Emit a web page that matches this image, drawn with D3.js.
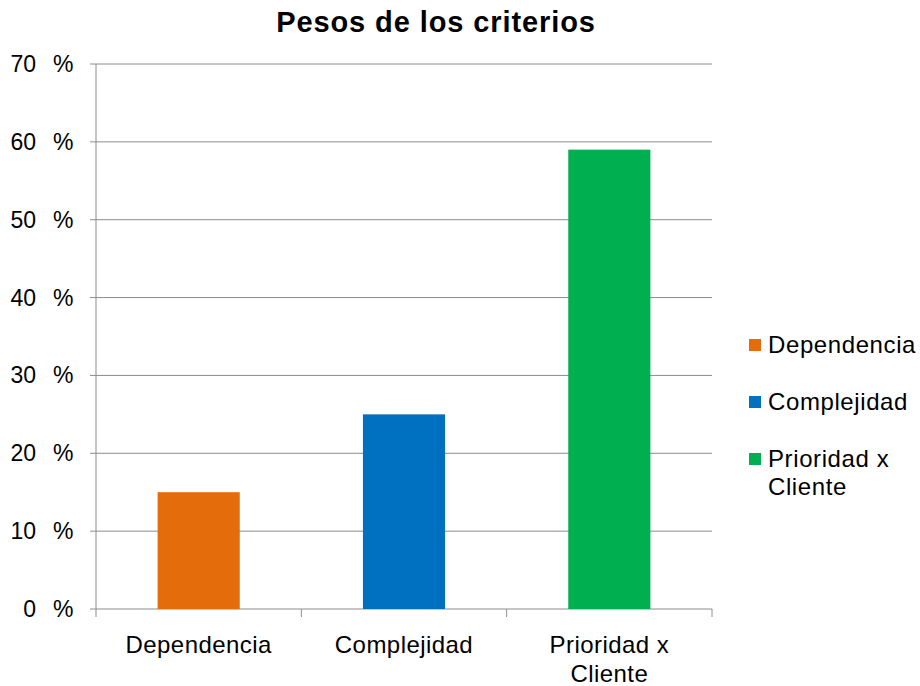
<!DOCTYPE html>
<html>
<head>
<meta charset="utf-8">
<script src="https://cdn.jsdelivr.net/npm/d3@7"></script>
<style>
  body { margin: 0; background: #fff; }
  text { font-family: "Liberation Sans", Arial, sans-serif; fill: #000; }
</style>
</head>
<body>
<div id="chart"></div>
<script>
// data
var categories = ["Dependencia", "Complejidad", "Prioridad x Cliente"];
var values = [15, 25, 59];
var colors = ["#e46c0a", "#0070c0", "#00b050"];
var yTicks = [0, 10, 20, 30, 40, 50, 60, 70];

var width = 920, height = 686;
var margin = {top: 64, right: 208, bottom: 77, left: 96};

var svg = d3.select("#chart").append("svg")
	.attr("width", width)
	.attr("height", height);

var x = d3.scaleBand()
	.domain(categories)
	.range([margin.left, width - margin.right])
	.paddingInner(0.6)
	.paddingOuter(0.3);

var y = d3.scaleLinear()
	.domain([0, 70])
	.range([height - margin.bottom, margin.top]);

// gridlines
svg.append("g")
	.selectAll("line")
	.data(yTicks)
	.enter().append("line")
	.attr("x1", margin.left - 6)
	.attr("x2", width - margin.right)
	.attr("y1", function (d) { return y(d); })
	.attr("y2", function (d) { return y(d); })
	.attr("stroke", "#8c8c8c")
	.attr("stroke-width", 1);

// y axis line
svg.append("line")
	.attr("x1", margin.left).attr("x2", margin.left)
	.attr("y1", y(70)).attr("y2", y(0))
	.attr("stroke", "#8c8c8c");

// category separator ticks on x axis
var bounds = [0, 1, 2, 3].map(function (i) {
	return margin.left + i * (width - margin.right - margin.left) / 3;
});
svg.append("g")
	.selectAll("line")
	.data(bounds)
	.enter().append("line")
	.attr("x1", function (d) { return d; })
	.attr("x2", function (d) { return d; })
	.attr("y1", y(0))
	.attr("y2", y(0) + 8)
	.attr("stroke", "#8c8c8c");

// y tick labels: number and % split like the original
var yl = svg.append("g").selectAll("g")
	.data(yTicks)
	.enter().append("g")
	.attr("transform", function (d) { return "translate(0," + (y(d) + 8) + ")"; });
yl.append("text")
	.attr("x", 36)
	.attr("text-anchor", "end")
	.style("font-size", "23px")
	.text(function (d) { return d; });
yl.append("text")
	.attr("x", 53)
	.style("font-size", "23px")
	.text("%");

// bars
svg.append("g")
	.selectAll("rect")
	.data(values)
	.enter().append("rect")
	.attr("x", function (d, i) { return x(categories[i]); })
	.attr("width", x.bandwidth())
	.attr("y", function (d) { return y(d); })
	.attr("height", function (d) { return y(0) - y(d); })
	.attr("fill", function (d, i) { return colors[i]; });

function splitLabel(d) {
	return d === "Prioridad x Cliente" ? ["Prioridad x", "Cliente"] : [d];
}

// x labels
svg.append("g").selectAll("text")
	.data(categories)
	.enter().append("text")
	.attr("text-anchor", "middle")
	.attr("x", function (d) { return x(d) + x.bandwidth() / 2; })
	.attr("y", 653)
	.style("font-size", "24px")
	.style("letter-spacing", "0.45px")
	.each(function (d) {
		var t = d3.select(this);
		splitLabel(d).forEach(function (p, k) {
			t.append("tspan")
				.attr("x", t.attr("x"))
				.attr("dy", k === 0 ? 0 : 29)
				.text(p);
		});
	});

// legend
var legendY = [345, 402, 459];
var lg = svg.append("g").selectAll("g")
	.data(categories)
	.enter().append("g")
	.attr("transform", function (d, i) { return "translate(749," + legendY[i] + ")"; });
lg.append("rect")
	.attr("x", 0).attr("y", -6)
	.attr("width", 12).attr("height", 12)
	.attr("fill", function (d, i) { return colors[i]; });
lg.append("text")
	.attr("x", 19)
	.attr("y", 8)
	.style("font-size", "24px")
	.style("letter-spacing", "0.6px")
	.each(function (d) {
		var t = d3.select(this);
		splitLabel(d).forEach(function (p, k) {
			t.append("tspan")
				.attr("x", 19)
				.attr("dy", k === 0 ? 0 : 28)
				.text(p);
		});
	});

// title
svg.append("text")
	.attr("x", 436)
	.attr("y", 32)
	.attr("text-anchor", "middle")
	.style("font-size", "29px")
	.style("font-weight", "bold")
	.style("letter-spacing", "0.9px")
	.text("Pesos de los criterios");
</script>
</body>
</html>
